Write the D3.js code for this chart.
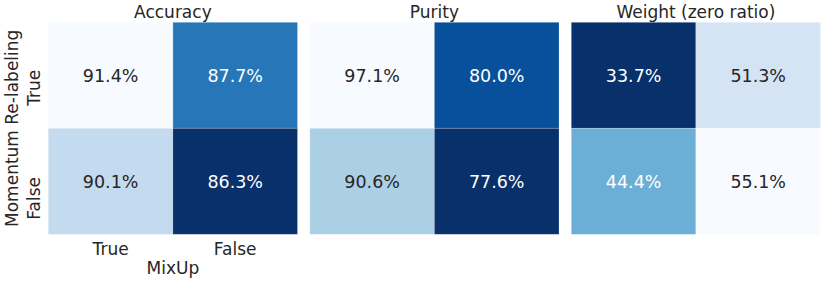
<!DOCTYPE html>
<html>
<head>
<meta charset="utf-8">
<script src="https://cdn.jsdelivr.net/npm/d3@7"></script>
<style>
  body { margin: 0; background: #fff; }
  svg { display: block; }
  text { font-family: "DejaVu Sans", sans-serif; }
</style>
</head>
<body>
<svg id="chart" width="830" height="283"></svg>
<script>
// ---- data ----
const mixupCats = ["True", "False"];      // columns (x)
const momentumCats = ["True", "False"];   // rows (y)
const panelTitles = ["Accuracy", "Purity", "Weight (zero ratio)"];
const accuracy = [[91.4, 87.7], [90.1, 86.3]];
const purity   = [[97.1, 80.0], [90.6, 77.6]];
const weight   = [[33.7, 51.3], [44.4, 55.1]];
const panelValues = [accuracy, purity, weight];
const xLabel = "MixUp";
const yLabel = "Momentum Re-labeling";

// matplotlib "Blues" stops
const bluesStops = ["#f7fbff","#deebf7","#c6dbef","#9ecae1","#6baed6","#4292c6","#2171b5","#08519c","#08306b"];

(function () {
const svg = d3.select("#chart");
const dark = "#262626";
const labelSize = 17, annotSize = 17.5;

const plotTop = 22.3, plotBottom = 234.3;
const panelLeft0 = 48.3, panelW = 249.2, panelStep = 261.5;

const y = d3.scaleBand().domain(momentumCats).range([plotTop, plotBottom]).padding(0);
const blues = d3.scaleLinear()
  .domain(d3.range(bluesStops.length).map(i => i / (bluesStops.length - 1)))
  .range(bluesStops)
  .interpolate(d3.interpolateRgb);

function luminance(c) {
  const rgb = d3.rgb(c);
  const f = v => { v /= 255; return v <= 0.03928 ? v / 12.92 : Math.pow((v + 0.055) / 1.055, 2.4); };
  return 0.2126 * f(rgb.r) + 0.7152 * f(rgb.g) + 0.0722 * f(rgb.b);
}

panelValues.forEach((vals, pi) => {
  const x0 = panelLeft0 + pi * panelStep;
  const x = d3.scaleBand().domain(mixupCats).range([x0, x0 + panelW]).padding(0);
  const flat = vals.flat();
  // reversed colormap (Blues_r): max -> lightest
  const t = d3.scaleLinear().domain([d3.max(flat), d3.min(flat)]).range([0, 1]);
  const g = svg.append("g");
  const cells = [];
  momentumCats.forEach((r, ri) => mixupCats.forEach((c, ci) => cells.push({ r, c, v: vals[ri][ci] })));

  g.selectAll("rect").data(cells).join("rect")
    .attr("x", d => x(d.c)).attr("y", d => y(d.r))
    .attr("width", x.bandwidth()).attr("height", y.bandwidth())
    .attr("fill", d => blues(t(d.v)))
    .attr("stroke", "#ffffff").attr("stroke-opacity", 0.25).attr("stroke-width", 0.8);

  g.selectAll("text.annot").data(cells).join("text")
    .attr("class", "annot")
    .attr("x", d => x(d.c) + x.bandwidth() / 2)
    .attr("y", d => y(d.r) + y.bandwidth() / 2)
    .attr("dy", "0.36em")
    .attr("text-anchor", "middle")
    .style("font-size", annotSize + "px")
    .attr("fill", d => luminance(blues(t(d.v))) > 0.408 ? dark : "#ffffff")
    .text(d => d.v.toFixed(1) + "%");

  svg.append("text")
    .attr("x", x0 + panelW / 2).attr("y", 18)
    .attr("text-anchor", "middle").style("font-size", labelSize + "px").attr("fill", dark)
    .text(panelTitles[pi]);

  if (pi === 0) {
    svg.selectAll("text.xtick").data(mixupCats).join("text")
      .attr("class", "xtick")
      .attr("x", d => x(d) + x.bandwidth() / 2).attr("y", 255)
      .attr("text-anchor", "middle").style("font-size", labelSize + "px").attr("fill", dark)
      .text(d => d);
    svg.append("text")
      .attr("x", x0 + panelW / 2).attr("y", 273.5)
      .attr("text-anchor", "middle").style("font-size", labelSize + "px").attr("fill", dark)
      .text(xLabel);
    const yOff = [12.5, 17];
    svg.selectAll("text.ytick").data(momentumCats).join("text")
      .attr("class", "ytick")
      .attr("transform", (d, i) => `translate(40,${y(d) + y.bandwidth() / 2 + yOff[i]}) rotate(-90)`)
      .attr("text-anchor", "middle").style("font-size", labelSize + "px").attr("fill", dark)
      .text(d => d);
    svg.append("text")
      .attr("transform", `translate(17.5,${(plotTop + plotBottom) / 2}) rotate(-90)`)
      .attr("text-anchor", "middle").style("font-size", labelSize + "px").attr("fill", dark)
      .text(yLabel);
  }
});
})();
</script>
</body>
</html>
